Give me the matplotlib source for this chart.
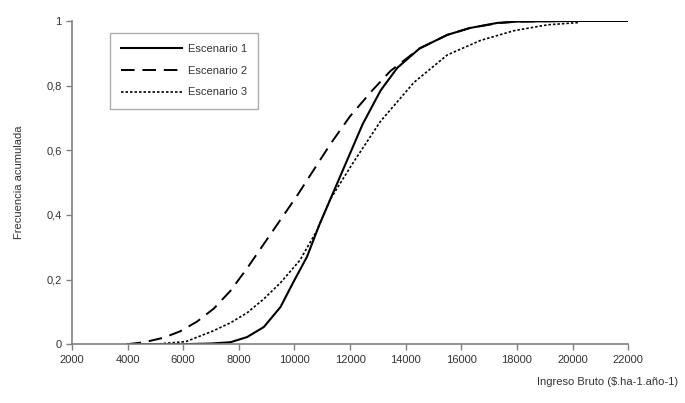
import matplotlib
matplotlib.use("Agg")
import matplotlib.pyplot as plt

plt.rcParams['font.family'] = ['Liberation Sans', 'DejaVu Sans']

# valores (curvas de frecuencia acumulada)
x1 = [4000, 5000, 6000, 7000, 7700, 8300, 8900, 9500, 9950, 10450, 10900, 11400,
      11900, 12450, 13100, 13700, 14500, 15500, 16300, 17300, 18000, 20000, 22000]
y1 = [0.0, 0.0, 0.0, 0.002, 0.006, 0.022, 0.053, 0.115, 0.19, 0.27, 0.37, 0.47,
      0.57, 0.68, 0.785, 0.855, 0.915, 0.957, 0.978, 0.994, 0.998, 1.0, 1.0]

x2 = [4000, 4600, 5300, 5900, 6500, 7100, 7700, 8300, 8900, 9500, 10100, 10700,
      11300, 12000, 12800, 13450, 14500, 15500, 16300, 17300, 18000, 20000]
y2 = [0.0, 0.006, 0.02, 0.04, 0.07, 0.11, 0.165, 0.235, 0.31, 0.385, 0.46, 0.54,
      0.62, 0.705, 0.785, 0.845, 0.915, 0.957, 0.978, 0.993, 0.998, 1.0]

x3 = [4000, 5000, 6100, 7050, 7700, 8300, 8900, 9500, 10200, 10800, 11300, 12100,
      13100, 14300, 15500, 16700, 17900, 19100, 20200]
y3 = [0.0, 0.0, 0.008, 0.04, 0.066, 0.097, 0.14, 0.19, 0.26, 0.35, 0.45, 0.56,
      0.69, 0.81, 0.895, 0.94, 0.97, 0.988, 0.995]

xticks = list(range(2000, 22001, 2000))
yticks = [0, 0.2, 0.4, 0.6, 0.8, 1]
ylabels = ['0', '0,2', '0,4', '0,6', '0,8', '1']

gris = '#808080'
txt = '#333333'

fig = plt.figure(figsize=(6.85, 4.03), dpi=100)
ax = fig.add_axes([0.105, 0.146, 0.812, 0.802])

ax.plot(x1, y1, color='black', lw=1.5, label='Escenario 1')
ax.plot(x2, y2, color='black', lw=1.4, dashes=(7, 4), label='Escenario 2')
ax.plot(x3, y3, color='black', lw=1.2, dashes=(1.5, 1.2), label='Escenario 3')

ax.set_xlim(2000, 22000)
ax.set_ylim(0, 1)
ax.set_xticks(xticks)
ax.set_xticklabels([str(v) for v in xticks])
ax.set_yticks(yticks)
ax.set_yticklabels(ylabels)
ax.tick_params(colors=gris, labelcolor=txt, labelsize=8, length=4, width=1)

for s in ['top', 'right']:
    ax.spines[s].set_visible(False)
for s in ['left', 'bottom']:
    ax.spines[s].set_color(gris)
    ax.spines[s].set_linewidth(1.2)

ax.set_ylabel('Frecuencia acumulada', fontsize=8, color=txt, labelpad=16)
fig.text(0.99, 0.045, 'Ingreso Bruto ($.ha-1.año-1)', fontsize=8, color=txt, ha='right')

leg = ax.legend(loc='upper left', bbox_to_anchor=(0.058, 0.98), fontsize=8,
                frameon=True, fancybox=False, handlelength=5.5, labelspacing=1.05,
                borderpad=1.0, handletextpad=0.5)
leg.get_frame().set_edgecolor('#999999')
leg.get_frame().set_linewidth(1)
for t in leg.get_texts():
    t.set_color(txt)

fig.savefig('out.png', dpi=100)
